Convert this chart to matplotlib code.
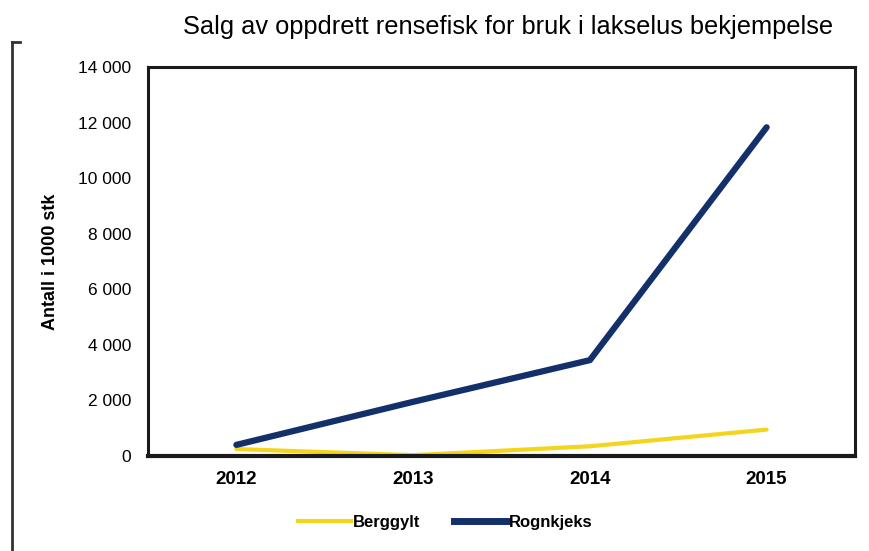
import matplotlib
matplotlib.use("Agg")
import matplotlib.pyplot as plt
from matplotlib.lines import Line2D

years = ["2012", "2013", "2014", "2015"]
berggylt = [250, 30, 350, 950]
rognkjeks = [400, 1950, 3450, 11830]
yticks = [0, 2000, 4000, 6000, 8000, 10000, 12000, 14000]
ytick_labels = ["0", "2 000", "4 000", "6 000", "8 000", "10 000", "12 000", "14 000"]

plt.rcParams['font.family'] = ['Liberation Sans', 'DejaVu Sans']

fig = plt.figure(figsize=(8.7, 5.51), dpi=100)
ax = fig.add_axes([148/870, 1-456/551, (855-148)/870, (456-67)/551])

x = [i + 0.5 for i in range(len(years))]
ax.plot(x, berggylt, color="#f2d51c", lw=3, solid_capstyle="round", label="Berggylt")
ax.plot(x, rognkjeks, color="#13306b", lw=4.5, solid_capstyle="round", label="Rognkjeks")

ax.set_xlim(0, 4)
ax.set_ylim(0, 14000)
ax.set_xticks(x)
ax.set_xticklabels(years, fontsize=13.5, fontweight="bold")
ax.set_yticks(yticks)
ax.set_yticklabels(ytick_labels, fontsize=12.5)
ax.tick_params(length=0, pad=12)
ax.tick_params(axis="x", pad=11)
for s in ax.spines.values():
    s.set_linewidth(2.2)
    s.set_color("#1a1a1a")
ax.spines["bottom"].set_linewidth(3)

ax.set_ylabel("Antall i 1000 stk", fontsize=13, fontweight="bold", labelpad=14)

fig.text(508/870, 1-27/551, "Salg av oppdrett rensefisk for bruk i lakselus bekjempelse",
         ha="center", va="center", fontsize=18.3)

leg = fig.legend(handles=[Line2D([], [], color="#f2d51c", lw=3),
                          Line2D([], [], color="#13306b", lw=5)],
                 labels=["Berggylt", "Rognkjeks"],
                 loc="center", bbox_to_anchor=(445/870, 1-522/551), ncol=2,
                 frameon=False, prop={"size": 12, "weight": "bold"},
                 handlelength=3.2, handletextpad=0.1, columnspacing=2.0)

# outer frame line from scan
fig.add_artist(Line2D([12/870, 12/870], [1-42/551, 0], color="#333333", lw=2))
fig.add_artist(Line2D([12/870, 20/870], [1-42/551, 1-42/551], color="#333333", lw=2))

fig.savefig("out.png", dpi=100)
